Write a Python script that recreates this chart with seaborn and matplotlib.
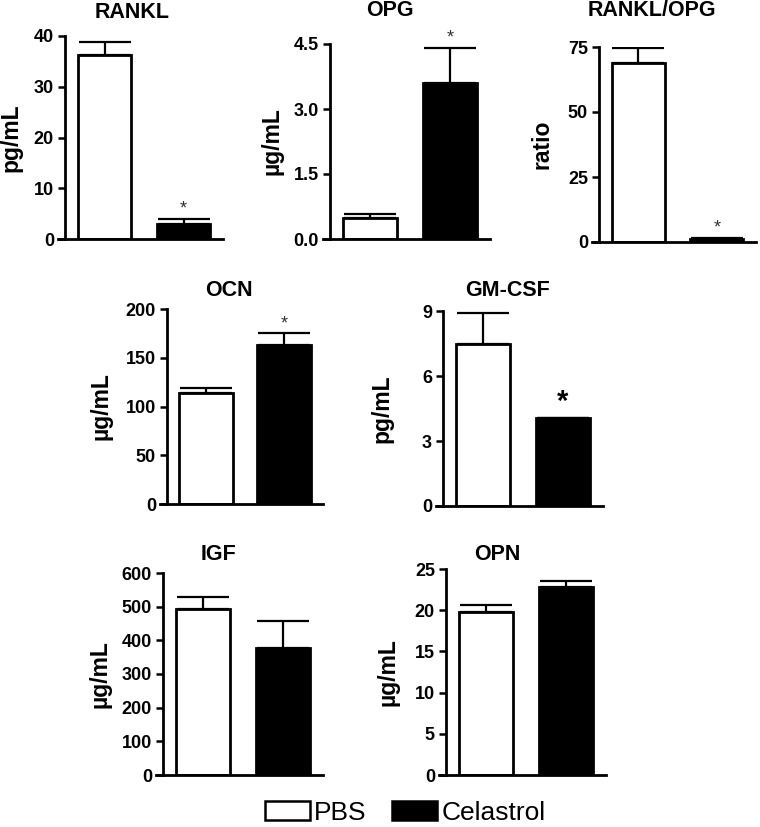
import numpy as np
import pandas as pd
import matplotlib
matplotlib.use("Agg")
import matplotlib.pyplot as plt
from matplotlib.patches import Patch
import seaborn as sns

groups = ["PBS", "Celastrol"]

rankl = [36.2, 3.0]
rankl_err = [2.6, 0.9]
opg = [0.49, 3.6]
opg_err = [0.09, 0.8]
ratio = [68.8, 1.2]
ratio_err = [5.8, 0.2]
ocn = [114, 163]
ocn_err = [5, 12]
gmcsf = [7.5, 4.05]
gmcsf_err = [1.4, 0.0]
igf = [493, 377]
igf_err = [36, 80]
opn = [19.8, 22.8]
opn_err = [0.8, 0.8]

sns.set_style("ticks")
plt.rcParams["font.family"] = ["Liberation Sans", "DejaVu Sans"]
plt.rcParams["font.weight"] = "bold"
for k in ["text.color", "axes.labelcolor", "xtick.color", "ytick.color", "axes.edgecolor"]:
    plt.rcParams[k] = "black"

W, H = 760, 827
fig = plt.figure(figsize=(W / 100, H / 100), dpi=100)


def add_ax(left, top, right, bottom):
    return fig.add_axes([left / W, 1 - bottom / H, (right - left) / W, (bottom - top) / H])


def panel(box, vals, errs, ticks, fmt, ylabel, lab_x, title, title_xy, stars, big_star=False):
    ax = add_ax(*box)
    df = pd.DataFrame({"group": groups, "value": vals})
    sns.barplot(data=df, x="group", y="value", hue="group", palette=["white", "black"],
                edgecolor="black", linewidth=2, width=0.68, errorbar=None,
                legend=False, ax=ax)
    ax.errorbar([0, 1], vals, yerr=[[0, 0], errs], fmt="none", ecolor="black",
                elinewidth=1.6, capsize=19, capthick=1.6, zorder=1)
    ax.set_xlim(-0.5, 1.5)
    ax.set_ylim(0, ticks[-1])
    ax.set_yticks(ticks)
    ax.set_yticklabels([fmt.format(t) for t in ticks], fontsize=13, fontweight="bold")
    ax.set_xticks([])
    ax.set_xlabel("")
    ax.set_ylabel(ylabel, fontsize=16.5, fontweight="bold")
    ax.yaxis.set_label_coords(lab_x, 0.5)
    sns.despine(ax=ax)
    for s in ["left", "bottom"]:
        ax.spines[s].set_linewidth(2)
    ax.tick_params(axis="y", length=5, width=1.8, pad=3)
    ax.spines["bottom"].set_bounds(-0.5 - 0.09, 1.5)
    fig.text(title_xy[0] / W, 1 - title_xy[1] / H, title, ha="center", va="center",
             fontsize=15.5, fontweight="bold")
    for i in stars:
        top = vals[i] + errs[i]
        if big_star:
            ax.annotate("*", (i, top), xytext=(0, 2), textcoords="offset points",
                        ha="center", va="bottom", fontsize=21, fontweight="bold")
        else:
            ax.annotate("*", (i, top), xytext=(0, 1), textcoords="offset points",
                        ha="center", va="bottom", fontsize=13, fontweight="normal",
                        color="#333333")
    return ax


panel((65, 36, 223, 239), rankl, rankl_err, [0, 10, 20, 30, 40], "{:g}", "pg/mL", -0.27,
      "RANKL", (132, 12), [1])
panel((330, 44, 490, 239), opg, opg_err, [0, 1.5, 3.0, 4.5], "{:.1f}", "\u00b5g/mL", -0.29,
      "OPG", (390, 10), [1])
panel((599, 47, 756, 242), ratio, ratio_err, [0, 25, 50, 75], "{:g}", "ratio", -0.29,
      "RANKL/OPG", (652, 11), [1])
panel((167, 309, 323, 504), ocn, ocn_err, [0, 50, 100, 150, 200], "{:g}", "\u00b5g/mL", -0.35,
      "OCN", (229, 290), [1])
panel((443, 311, 603, 506), gmcsf, gmcsf_err, [0, 3, 6, 9], "{:g}", "pg/mL", -0.31,
      "GM-CSF", (507, 290), [1], big_star=True)
panel((163, 573, 323, 775), igf, igf_err, [0, 100, 200, 300, 400, 500, 600], "{:g}", "\u00b5g/mL", -0.32,
      "IGF", (218, 555), [])
panel((446, 569, 606, 775), opn, opn_err, [0, 5, 10, 15, 20, 25], "{:g}", "\u00b5g/mL", -0.29,
      "OPN", (497, 555), [])

handles = [Patch(facecolor="white", edgecolor="black", linewidth=1.8, label=groups[0]),
           Patch(facecolor="black", edgecolor="black", linewidth=1.8, label=groups[1])]
fig.legend(handles=handles, loc="center", bbox_to_anchor=(405 / W, 1 - 813 / H),
           ncol=2, frameon=False, handlelength=1.7, handleheight=0.75,
           handletextpad=0.15, columnspacing=1.0, prop={"size": 19, "weight": "normal"})

fig.savefig("out.png", dpi=100)
